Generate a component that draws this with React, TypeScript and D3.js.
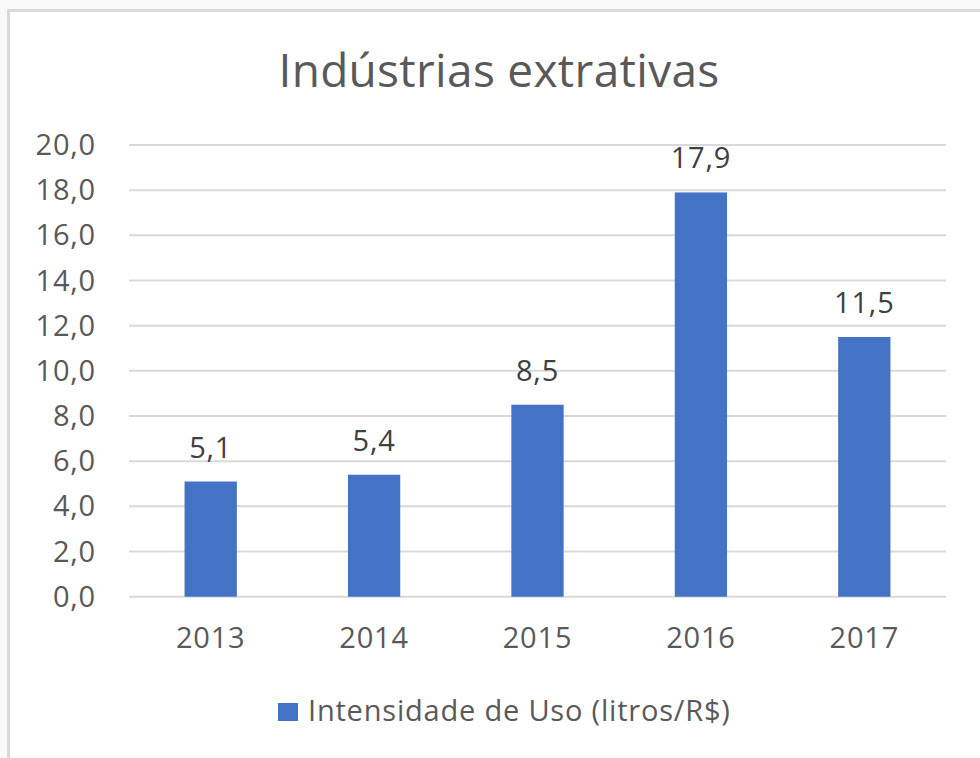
import React from "react";
import * as d3 from "d3";

const categories = ["2013", "2014", "2015", "2016", "2017"];
const values = [5.1, 5.4, 8.5, 17.9, 11.5];
const yTicks = [0, 2, 4, 6, 8, 10, 12, 14, 16, 18, 20];
const title = "Indústrias extrativas";
const seriesName = "Intensidade de Uso (litros/R$)";

const W = 980;
const H = 758;
const FONT = "'Open Sans', 'Noto Sans', sans-serif";
const BAR = "#4472c4";
const GRID = "#d9d9d9";
const TXT = "#595959";
const FS = 29;
const LS = 0.8;
const fmt = (v: number) => v.toFixed(1).replace(".", ",");

export default function App() {
  const x = d3.scaleBand<string>().domain(categories).range([129, 946]).paddingInner(0.68).paddingOuter(0.34);
  const y = d3.scaleLinear().domain([0, 20]).range([596.7, 145]);

  return (
    <div style={{ position: "absolute", left: 0, top: 0 }}>
      <svg width={W} height={H} style={{ display: "block" }}>
        <rect x={0} y={0} width={W} height={H} fill="#f8f9fa" />
        <rect x={7} y={9} width={W} height={H} fill={GRID} />
        <rect x={10} y={12} width={W} height={H} fill="#ffffff" />
        <text x={499} y={87} textAnchor="middle" fontFamily={FONT} fontSize={46} letterSpacing={0.3} fill={TXT}>
          {title}
        </text>
        {yTicks.map((t) => (
          <g key={t}>
            <line x1={129} x2={946} y1={y(t)} y2={y(t)} stroke={GRID} strokeWidth={2} />
            <text x={96} y={y(t) + 10} textAnchor="end" fontFamily={FONT} fontSize={FS} letterSpacing={LS} fill={TXT}>
              {fmt(t)}
            </text>
          </g>
        ))}
        {categories.map((c, i) => (
          <g key={c}>
            <rect x={x(c)} y={y(values[i])} width={x.bandwidth()} height={y(0) - y(values[i])} fill={BAR} />
            <text x={(x(c) as number) + x.bandwidth() / 2} y={y(values[i]) - 24} textAnchor="middle" fontFamily={FONT} fontSize={FS} letterSpacing={LS} fill="#404040">
              {fmt(values[i])}
            </text>
            <text x={(x(c) as number) + x.bandwidth() / 2} y={648} textAnchor="middle" fontFamily={FONT} fontSize={FS} letterSpacing={LS} fill={TXT}>
              {c}
            </text>
          </g>
        ))}
        <rect x={278} y={703} width={20} height={18} fill={BAR} />
        <text x={308} y={721} fontFamily={FONT} fontSize={FS} letterSpacing={LS} fill={TXT}>
          {seriesName}
        </text>
      </svg>
    </div>
  );
}
